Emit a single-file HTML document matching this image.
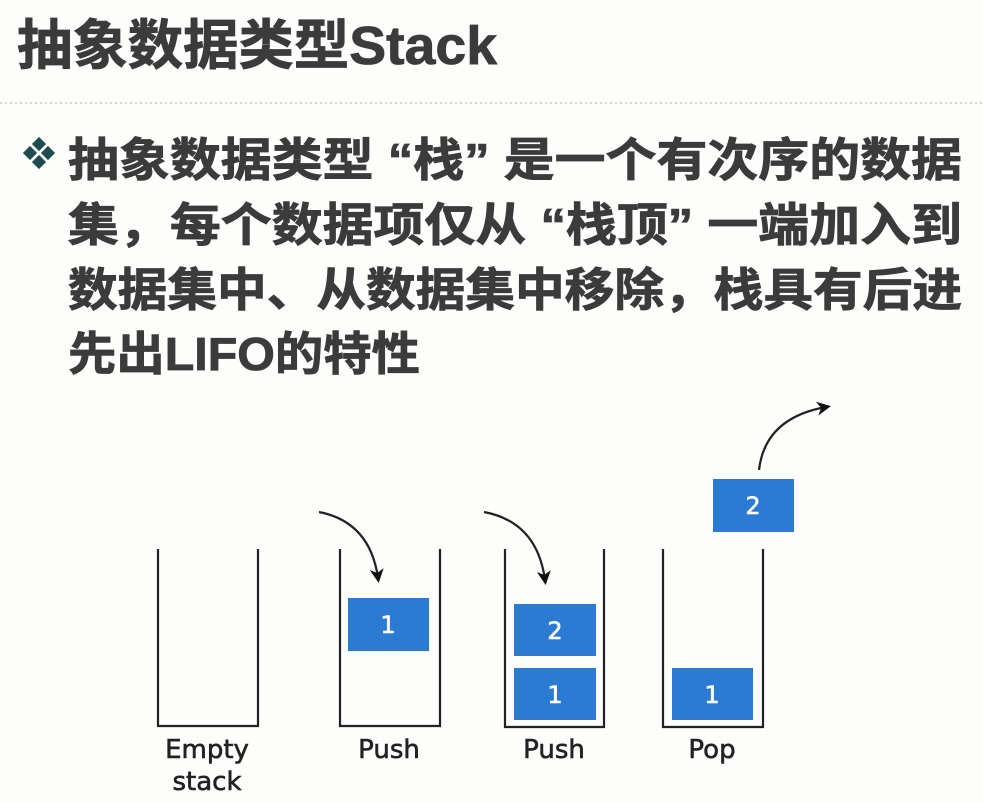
<!DOCTYPE html>
<html><head><meta charset="utf-8"><style>
html,body{margin:0;padding:0;background:#fdfdfc;}
svg{display:block}
</style></head><body>
<svg width="983" height="802" viewBox="0 0 983 802" xmlns="http://www.w3.org/2000/svg">
<defs>
<marker id="ah" markerWidth="14" markerHeight="14" refX="9" refY="7" orient="auto" markerUnits="userSpaceOnUse" viewBox="0 0 14 14">
<path d="M0,0 L14,7 L0,14 L4,7 Z" fill="#111"/>
</marker>
</defs>
<rect width="983" height="802" fill="#fdfdfc"/>
<g font-family="'Liberation Sans','Noto Sans CJK SC',sans-serif" font-weight="bold" fill="#3b3b3b" stroke="#3b3b3b" stroke-width="0.8">
<text x="17" y="64" font-size="54" textLength="480" lengthAdjust="spacingAndGlyphs">抽象数据类型Stack</text>
<text x="68" y="176" font-size="46" textLength="894" lengthAdjust="spacingAndGlyphs">抽象数据类型 “栈” 是一个有次序的数据</text>
<text x="68" y="241" font-size="46" textLength="894" lengthAdjust="spacingAndGlyphs">集，每个数据项仅从 “栈顶” 一端加入到</text>
<text x="68" y="306" font-size="46" textLength="894" lengthAdjust="spacingAndGlyphs">数据集中、从数据集中移除，栈具有后进</text>
<text x="68" y="370" font-size="46" textLength="352" lengthAdjust="spacingAndGlyphs">先出LIFO的特性</text>
</g>
<line x1="0" y1="103" x2="983" y2="103" stroke="#c8c8c8" stroke-width="1.5" stroke-dasharray="2,3"/>
<g fill="#1f4d4f">
<rect x="34" y="139" width="10" height="10" transform="rotate(45 39 144)"/>
<rect x="25" y="148" width="10" height="10" transform="rotate(45 30 153)"/>
<rect x="43" y="148" width="10" height="10" transform="rotate(45 48 153)"/>
<rect x="34" y="157" width="10" height="10" transform="rotate(45 39 162)"/>
</g>
<g fill="none" stroke="#222" stroke-width="2.2">
<path d="M158,549 V726 H258 V549"/>
<path d="M340,549 V726 H440 V549"/>
<path d="M505,549 V727 H604 V549"/>
<path d="M663,549 V727 H763 V549"/>
<path d="M319,512 Q370,522 378,578" marker-end="url(#ah)"/>
<path d="M484,512 Q537,522 545,580" marker-end="url(#ah)"/>
<path d="M759,470 Q765,418 826,407" marker-end="url(#ah)"/>
</g>
<g fill="#2b7bd2">
<rect x="348" y="598" width="81" height="53"/>
<rect x="514" y="604" width="82" height="52"/>
<rect x="514" y="668" width="82" height="52"/>
<rect x="672" y="668" width="81" height="52"/>
<rect x="713" y="479" width="81" height="53"/>
</g>
<g font-family="'DejaVu Sans','Liberation Sans',sans-serif" font-size="24" fill="#fff" stroke="#fff" stroke-width="0.6" text-anchor="middle">
<text x="388" y="633">1</text>
<text x="555" y="639">2</text>
<text x="555" y="703">1</text>
<text x="712" y="703">1</text>
<text x="753" y="514">2</text>
</g>
<g font-family="'DejaVu Sans','Liberation Sans',sans-serif" font-size="26" fill="#222" stroke="#222" stroke-width="0.6" text-anchor="middle">
<text x="207" y="758">Empty</text>
<text x="207" y="790">stack</text>
<text x="389" y="758">Push</text>
<text x="554" y="758">Push</text>
<text x="712" y="758">Pop</text>
</g>
</svg>
</body></html>
